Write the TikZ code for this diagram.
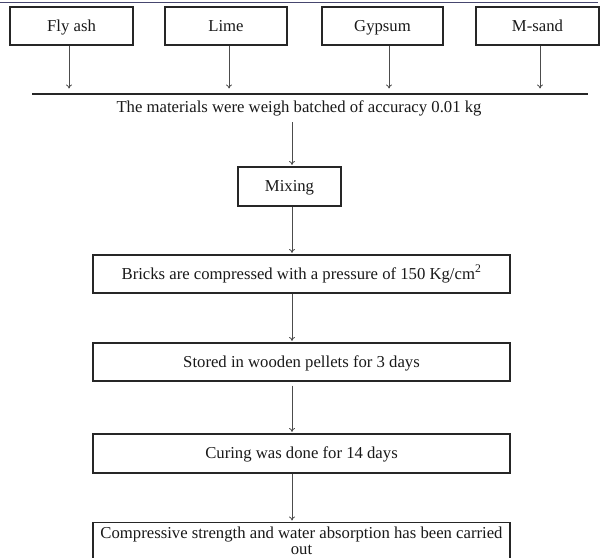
\documentclass[tikz,border=0pt]{standalone}
\usepackage{fontspec}
\setmainfont{Liberation Serif}
\usetikzlibrary{arrows.meta}
\begin{document}
\begin{tikzpicture}[x=1pt,y=-1pt,
  box/.style={draw=black!85, line width=1.1pt, minimum height=38pt, inner sep=0pt,
    text height=13pt, text depth=3pt,
    font=\fontsize{16.7}{17.5}\selectfont, text=black!90},
  arr/.style={draw=black!70, line width=0.8pt, -{To[length=4pt,width=6pt]}, shorten >=1.5pt},
  lbl/.style={font=\fontsize{16.7}{17.5}\selectfont, inner sep=0pt, text=black!90}]
\useasboundingbox (0,0) rectangle (604,557);
\clip (0,0) rectangle (604,557);
\draw[line width=1pt, draw={rgb,255:red,70;green,70;blue,110}] (0,2.5) -- (598,2.5);

\node[box, minimum width=123pt] (fly) at (71.5,26) {Fly ash};
\node[box, minimum width=122pt] (lime) at (226,26) {Lime};
\node[box, minimum width=121pt] (gyp) at (382.5,26) {Gypsum};
\node[box, minimum width=123pt] (msand) at (537.5,26) {M-sand};

\coordinate (hl1) at (32,94);
\coordinate (hl2) at (588,94);
\draw[line width=1.5pt, black!85] (hl1) -- (hl2);

\coordinate (c1) at (69,90);
\coordinate (c2) at (229,90);
\coordinate (c3) at (389,90);
\coordinate (c4) at (540,90);
\draw[arr] (fly.south -| c1) -- (c1);
\draw[arr] (lime.south -| c2) -- (c2);
\draw[arr] (gyp.south -| c3) -- (c3);
\draw[arr] (msand.south -| c4) -- (c4);

\node[lbl] (mat) at (299,108) {The materials were weigh batched of accuracy 0.01 kg};
\coordinate (m1) at (292,122);

\node[box, minimum width=103pt, minimum height=39pt] (mix) at (289.5,186.5) {Mixing};
\node[box, minimum width=417pt] (bricks) at (301.5,274) {Bricks are compressed with a pressure of 150 Kg/cm\textsuperscript{2}};
\node[box, minimum width=417pt] (stored) at (301.5,362) {Stored in wooden pellets for 3 days};
\node[box, minimum width=417pt, minimum height=39pt] (curing) at (301.5,453.5) {Curing was done for 14 days};
\node[box, minimum width=417pt, minimum height=0pt, anchor=north, align=center, inner ysep=4pt,
  text height=, text depth=, font=\fontsize{16.7}{16.5}\selectfont] (final) at (301.5,522)
  {Compressive strength and water absorption has been carried\\out\\ };

\draw[arr] (m1) -- (mix.north -| m1);
\draw[arr] (mix.south -| m1) -- (bricks.north -| m1);
\draw[arr] (bricks.south -| m1) -- (stored.north -| m1);
\draw[arr] ([yshift=-4pt]stored.south -| m1) -- (curing.north -| m1);
\draw[arr] (curing.south -| m1) -- (final.north -| m1);
\end{tikzpicture}
\end{document}
